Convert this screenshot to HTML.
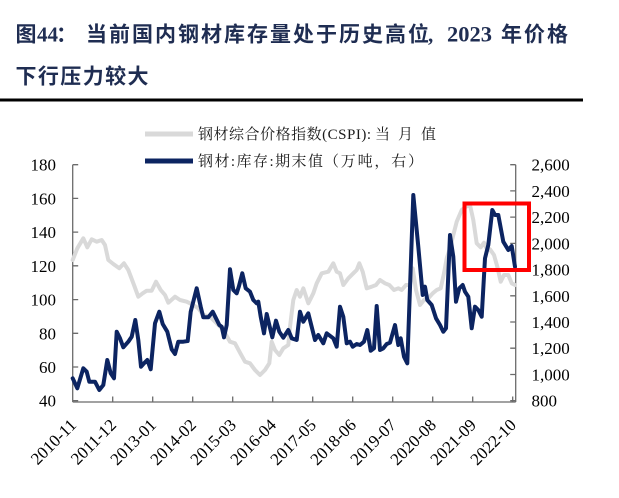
<!DOCTYPE html>
<html><head><meta charset="utf-8"><style>
html,body{margin:0;padding:0;background:#fff;}
svg{display:block;}
</style></head><body>
<svg width="619" height="498" viewBox="0 0 619 498" xmlns="http://www.w3.org/2000/svg">
<rect width="619" height="498" fill="#fff"/>
<!-- Title -->
<g fill="#1f2d52" font-weight="bold" font-size="21" font-family="'Liberation Serif','Noto Sans CJK SC',sans-serif">
<text x="15.5" y="41.5" font-family="'Noto Sans CJK SC',sans-serif">图</text>
<text x="37" y="41.5" font-family="'Liberation Serif',serif">44</text>
<text x="56" y="41.5" font-family="'Noto Sans CJK SC',sans-serif">：</text>
<text x="86" y="41.5" font-family="'Noto Sans CJK SC',sans-serif" textLength="343" lengthAdjust="spacing">当前国内钢材库存量处于历史高位</text>
<text x="428" y="41.5" font-family="'Liberation Serif',serif">,</text>
<text x="447" y="41.5" font-family="'Liberation Serif',serif" font-size="22" textLength="45" lengthAdjust="spacingAndGlyphs">2023</text>
<text x="501" y="41.5" font-family="'Noto Sans CJK SC',sans-serif" textLength="67" lengthAdjust="spacing">年价格</text>
<text x="15.5" y="83.5" font-family="'Noto Sans CJK SC',sans-serif" textLength="133" lengthAdjust="spacing">下行压力较大</text>
</g>
<rect x="0" y="98.5" width="583" height="3" fill="#000"/>

<!-- Legend -->
<line x1="145" y1="134" x2="193" y2="134" stroke="#d9d9d9" stroke-width="5"/>
<line x1="145" y1="161" x2="193" y2="161" stroke="#0c2461" stroke-width="5"/>
<g fill="#1a1a1a" font-size="15" font-family="'Liberation Serif','Noto Serif CJK SC',serif">
<text x="198" y="139" textLength="173" lengthAdjust="spacing">钢材综合价格指数(CSPI):</text>
<text x="375" y="139" textLength="61" lengthAdjust="spacing">当月值</text>
<text x="198" y="166" textLength="125" lengthAdjust="spacing">钢材:库存:期末值</text>
<text x="324" y="166" textLength="99" lengthAdjust="spacing">（万吨，右）</text>
</g>

<!-- Axes -->
<g stroke="#6b6b6b" stroke-width="1.3" fill="none">
<line x1="72.7" y1="164.7" x2="72.7" y2="402"/>
<line x1="515.7" y1="164.7" x2="515.7" y2="402"/>
<line x1="72.7" y1="402" x2="515.7" y2="402"/>
<!-- left ticks -->
<path d="M72.7 164.7h5.5M72.7 198.4h5.5M72.7 232.1h5.5M72.7 265.8h5.5M72.7 299.6h5.5M72.7 333.3h5.5M72.7 367h5.5M72.7 400.7h5.5"/>
<!-- right ticks -->
<path d="M515.7 164.7h-5.5M515.7 190.9h-5.5M515.7 217.1h-5.5M515.7 243.4h-5.5M515.7 269.6h-5.5M515.7 295.8h-5.5M515.7 322h-5.5M515.7 348.2h-5.5M515.7 374.5h-5.5M515.7 400.7h-5.5"/>
<!-- bottom ticks -->
<path d="M112.7 402v-5.5M152.7 402v-5.5M192.7 402v-5.5M232.7 402v-5.5M272.7 402v-5.5M312.7 402v-5.5M352.7 402v-5.5M392.7 402v-5.5M432.7 402v-5.5M472.7 402v-5.5M512.7 402v-5.5"/>
</g>

<!-- Left labels -->
<g fill="#000" font-size="17" font-family="'Liberation Serif',serif" text-anchor="end">
<text x="56" y="170.7">180</text>
<text x="56" y="204.4">160</text>
<text x="56" y="238.1">140</text>
<text x="56" y="271.8">120</text>
<text x="56" y="305.6">100</text>
<text x="56" y="339.3">80</text>
<text x="56" y="373">60</text>
<text x="56" y="406.7">40</text>
</g>
<!-- Right labels -->
<g fill="#000" font-size="17" font-family="'Liberation Serif',serif">
<text x="531.5" y="170.7">2,600</text>
<text x="531.5" y="196.9">2,400</text>
<text x="531.5" y="223.1">2,200</text>
<text x="531.5" y="249.4">2,000</text>
<text x="531.5" y="275.6">1,800</text>
<text x="531.5" y="301.8">1,600</text>
<text x="531.5" y="328">1,400</text>
<text x="531.5" y="354.2">1,200</text>
<text x="531.5" y="380.5">1,000</text>
<text x="531.5" y="406.7">800</text>
</g>
<!-- X labels -->
<g fill="#000" font-size="17" font-family="'Liberation Serif',serif" text-anchor="end">
<text transform="translate(77.2,426) rotate(-45)">2010-11</text>
<text transform="translate(117.2,426) rotate(-45)">2011-12</text>
<text transform="translate(157.2,426) rotate(-45)">2013-01</text>
<text transform="translate(197.2,426) rotate(-45)">2014-02</text>
<text transform="translate(237.2,426) rotate(-45)">2015-03</text>
<text transform="translate(277.2,426) rotate(-45)">2016-04</text>
<text transform="translate(317.2,426) rotate(-45)">2017-05</text>
<text transform="translate(357.2,426) rotate(-45)">2018-06</text>
<text transform="translate(397.2,426) rotate(-45)">2019-07</text>
<text transform="translate(437.2,426) rotate(-45)">2020-08</text>
<text transform="translate(477.2,426) rotate(-45)">2021-09</text>
<text transform="translate(517.2,426) rotate(-45)">2022-10</text>
</g>

<!-- Gray series -->
<polyline fill="none" stroke="#d9d9d9" stroke-width="4" stroke-linejoin="round" stroke-linecap="round" points="72.7,260 77.3,248.3 83.3,238.3 87.3,247.3 91.7,239.3 96.7,241.7 101.7,240 105,245 108.3,260 113.3,264 119.3,268.3 124,263.3 128.3,270 134,285 138.3,296.7 142.7,293.3 146.7,290.7 151.7,290.7 156,281.7 160.7,290 165,295 168.3,302.7 175,296.7 180,300 186.7,301.7 193.3,305 198.3,308.3 203.3,315 210,316.7 216.7,323.3 223.3,330 230,341.7 235,343.3 240,352.7 245,361.7 250,363.3 255,370 260,375 265,370 269.3,363.3 271.7,341.7 275,350 279.3,355 283.3,348.3 288.3,345 290,326.7 293.3,300 296.7,290 300,296.7 303.3,288.3 308.3,303.3 313.3,293.3 316.7,283.3 321.7,273.3 328.3,271.7 333.3,263.3 336.7,271.7 340,273.3 343.3,285 348.3,278.3 353.3,273.3 356.7,270 359.3,263.3 362.7,271.7 366.7,288.3 371.7,286.7 376,285 380,280 385,283.3 389.3,285 394,290 398.3,288.3 401.7,290 406,285 410,285 412.7,268.3 416,290 420,305 424,300 428.3,298.3 432.7,293.3 436.7,290 440.7,288.3 444,273.3 446.7,258.3 450,248.3 453.3,235 456.7,221.7 461.7,210 466,206.7 470,205 473.3,220 476.7,243.3 480.7,247.3 484,242.7 487.3,250 490,249.3 494,255 497.3,266.7 500.7,281.7 504,275 508.3,275 511.7,283.3 515,285"/>

<!-- Navy series -->
<polyline fill="none" stroke="#0c2461" stroke-width="4" stroke-linejoin="round" stroke-linecap="round" points="72.7,378.3 77.3,388.3 83.3,368.3 86.7,371.7 89.3,381.7 95,381.7 99.3,390 103.3,385 107.3,360 110.7,373.3 114,378.3 116.7,331.7 120,338.3 123.3,347.3 128.3,341.7 131.7,336.7 135.3,320 138.3,340 141,366.7 144,363.3 147.3,360 150.7,369.3 155,323.3 159.3,311.7 162.7,324 167.3,331.7 171.7,349.3 175,354 178.3,341.7 183.3,341.7 187.7,341 190.7,311.7 196.7,288.3 200.7,306.7 203.3,317.3 208.3,317.3 212.7,311.7 216,318.3 219.3,325 221.7,326.7 224,337.3 226.7,325 230,269.3 233.3,290 236.7,293.3 239,286 242.3,273.3 245.7,288.3 250,291.7 253.3,300 256.7,303.3 258.3,301.7 260.7,316.7 264,333.3 266.7,314 269.3,325 272.3,337.3 276,320.7 279.3,331.7 283.3,337.7 288.3,330 291.7,338.3 296.7,340 300,311.7 303.3,321.7 308.3,313.3 315,340 318.3,335 323.3,343.3 326.7,333.3 333.3,338.3 336.7,346.7 340,306.7 343.3,316.7 346.7,343.3 350,341.7 352.7,346.7 356.7,344 360,345 364,341.7 367.3,330 370.7,350.7 374,348.3 376.7,306 380,350 383.3,348.3 386.7,344 390,342.7 395,325 398.3,345 400.7,338.3 404,356.7 407.3,363.3 413.3,195 418.3,246.7 422.7,295 425,286.7 427.3,300 431.7,305 436,318.3 440,325 443.3,331.7 446,328.3 450,235 453.3,256.7 456,301.7 459.3,288.3 462.7,285 465,291.7 468.3,296.7 471.7,328.3 475,306.7 478.3,310 481.7,316.7 485,258.3 488.3,245 492.3,210 495,215 498.3,215 503.3,241.7 508.3,250 511.7,246 515,266.7"/>

<!-- Red box -->
<rect x="464.5" y="203.5" width="64.5" height="66.5" fill="none" stroke="#ff0000" stroke-width="4"/>
</svg>
</body></html>
